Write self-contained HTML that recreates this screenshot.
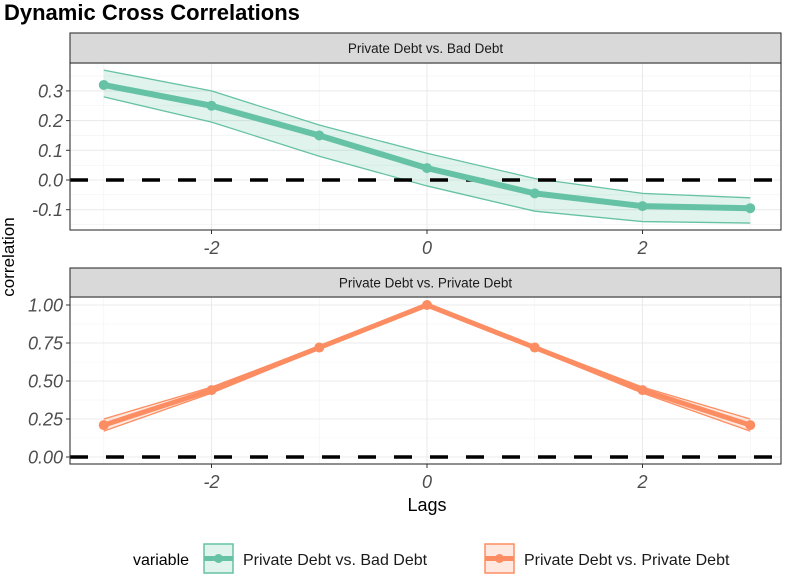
<!DOCTYPE html><html><head><style>body{margin:0;background:#fff}svg{font-family:"Liberation Sans",Arial,sans-serif}</style></head><body>
<svg id="c" width="786" height="575" xmlns="http://www.w3.org/2000/svg"></svg>
<script>
const lags=[-3,-2,-1,0,1,2,3];
const bdMean=[0.32,0.25,0.15,0.04,-0.045,-0.088,-0.095];
const bdUp=[0.37,0.30,0.185,0.09,0.005,-0.045,-0.06];
const bdLo=[0.28,0.195,0.08,-0.02,-0.105,-0.14,-0.145];
const pdMean=[0.21,0.44,0.72,1.0,0.72,0.44,0.21];
const pdUp=[0.25,0.46,0.73,1.0,0.73,0.46,0.25];
const pdLo=[0.17,0.42,0.71,1.0,0.71,0.42,0.17];
const xTicks=[-2,0,2];
const y1Ticks=[0.3,0.2,0.1,0.0,-0.1];
const y1Labels=["0.3","0.2","0.1","0.0","-0.1"];
const y2Ticks=[1,0.75,0.5,0.25,0];
const y2Labels=["1.00","0.75","0.50","0.25","0.00"];
const S=document.getElementById('c'),NS='http://www.w3.org/2000/svg';
function el(t,a,p){const e=document.createElementNS(NS,t);for(const k in a)e.setAttribute(k,a[k]);(p||S).appendChild(e);return e;}
const X=v=>427+v*107.75;
const L=70,R=781;
function panel(name,stripTop,top,bot,ys,ticks,labels,minor,mean,up,lo,col,fill,lw,strip){
 const Y=v=>ys[0]+(v-ys[1])*ys[2];
 const g=el('g',{});
 el('rect',{x:L,y:top,width:R-L,height:bot-top,fill:'#fff'},g);
 minor.forEach(v=>el('line',{x1:L,x2:R,y1:Y(v),y2:Y(v),stroke:'#f2f2f2','stroke-width':0.6},g));
 [-3,-1,1,3].forEach(v=>el('line',{x1:X(v),x2:X(v),y1:top,y2:bot,stroke:'#f2f2f2','stroke-width':0.6},g));
 ticks.forEach((v,i)=>{el('line',{x1:L,x2:R,y1:Y(v),y2:Y(v),stroke:'#ebebeb','stroke-width':1.1},g);
  el('line',{x1:L-4,x2:L,y1:Y(v),y2:Y(v),stroke:'#333'},g);
  const t=el('text',{x:L-7,y:Y(v)+6.5,'text-anchor':'end','font-size':18,'font-style':'italic',fill:'#4d4d4d'},g);t.textContent=labels[i];});
 xTicks.forEach(v=>{el('line',{x1:X(v),x2:X(v),y1:top,y2:bot,stroke:'#ebebeb','stroke-width':1.1},g);
  el('line',{x1:X(v),x2:X(v),y1:bot,y2:bot+4,stroke:'#333'},g);
  const t=el('text',{x:X(v),y:bot+24,'text-anchor':'middle','font-size':18,'font-style':'italic',fill:'#4d4d4d'},g);t.textContent=String(v);});
 let pts=lags.map((l,i)=>X(l)+','+Y(up[i])).concat(lags.map((l,i)=>X(l)+','+Y(lo[i])).reverse());
 const rb=el('polygon',{points:pts.join(' '),fill:fill,'fill-opacity':0.2,stroke:'none'},g);
 [up,lo].forEach(a=>el('polyline',{points:lags.map((l,i)=>X(l)+','+Y(a[i])).join(' '),fill:'none',stroke:col,'stroke-width':1.3},g));
 const zl=el('line',{x1:L,x2:R,y1:Y(0),y2:Y(0),stroke:'#000','stroke-width':3.5,'stroke-dasharray':'18 18'},g);
 const ml=el('polyline',{points:lags.map((l,i)=>X(l)+','+Y(mean[i])).join(' '),fill:'none',stroke:col,'stroke-width':lw,'stroke-linejoin':'round'},g);
 lags.forEach((l,i)=>{const c=el('circle',{cx:X(l),cy:Y(mean[i]),r:5,fill:col},g);});
 el('rect',{x:L,y:top,width:R-L,height:bot-top,fill:'none',stroke:'#333','stroke-width':1.1},g);
 el('rect',{x:L,y:stripTop,width:R-L,height:top-stripTop,fill:'#d9d9d9',stroke:'#333','stroke-width':1.1},g);
 const st=el('text',{x:(L+R)/2,y:(stripTop+top)/2+5,'text-anchor':'middle','font-size':13.5,fill:'#1a1a1a'},g);st.textContent=strip;
}
panel('bad-debt',33,63,230,[180,0,-297],y1Ticks,y1Labels,[0.25,0.15,0.05,-0.05,-0.15,0.35],bdMean,bdUp,bdLo,'#66C2A5','#66C2A5',6,'Private Debt vs. Bad Debt');
panel('private-debt',268,297,464,[457,0,-152],y2Ticks,y2Labels,[0.125,0.375,0.625,0.875],pdMean,pdUp,pdLo,'#FC8D62','#FC8D62',5,'Private Debt vs. Private Debt');
function txt(x,y,s,sz,a,name){const t=el('text',Object.assign({x:x,y:y,'font-size':sz,fill:'#000'},a||{}));t.textContent=s;return t;}
txt(4,20,'Dynamic Cross Correlations',22,{'font-weight':'bold'},'chart-title');
txt(427,511,'Lags',18,{'text-anchor':'middle'},'x-axis-title');
txt(0,0,'correlation',17,{'text-anchor':'middle',transform:'translate(14,257) rotate(-90)'},'y-axis-title');
txt(133,565,'variable',16,{},'legend-title');
[['#66C2A5',204,'Private Debt vs. Bad Debt'],['#FC8D62',485,'Private Debt vs. Private Debt']].forEach(([c,x,s])=>{
 const g=el('g',{});
 el('rect',{x:x,y:544,width:29,height:29,fill:c,'fill-opacity':0.2,stroke:c,'stroke-width':1.5},g);
 el('line',{x1:x,x2:x+29,y1:558.5,y2:558.5,stroke:c,'stroke-width':5},g);
 el('circle',{cx:x+14.5,cy:558.5,r:4.5,fill:c},g);
 const t=el('text',{x:x+39,y:565,'font-size':16,fill:'#1a1a1a'},g);t.textContent=s;
});
</script></body></html>
